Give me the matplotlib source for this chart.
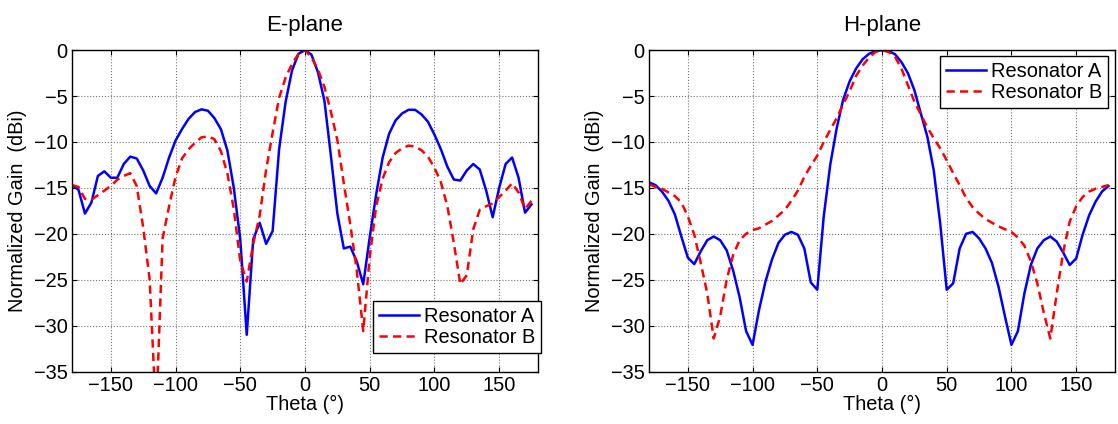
import numpy as np
import matplotlib
matplotlib.use('Agg')
import matplotlib.pyplot as plt

plt.rcParams['font.family'] = ['Liberation Sans', 'DejaVu Sans']

#Angles (deg), sampled every 5 deg
theta = list(range(-180, 180, 5))

#E-plane gain (dBi)
e_res_a = [-14.7, -15.2, -17.8, -16.6, -13.7, -13.2, -13.9, -13.9, -12.4, -11.6,
           -11.8, -13.1, -14.8, -15.6, -13.9, -11.7, -9.85, -8.6, -7.5, -6.75,
           -6.45, -6.6, -7.4, -8.6, -10.9, -15.0, -20.6, -31.0, -20.6, -18.8,
           -21.1, -19.7, -10.8, -5.65, -2.2, -0.4, 0.0, -0.5, -2.4, -5.5,
           -11.5, -17.8, -21.6, -21.4, -23.0, -25.5, -20.4, -15.7, -11.7, -9.1,
           -7.65, -6.9, -6.5, -6.5, -7.0, -7.8, -9.2, -10.8, -12.7, -14.1,
           -14.2, -13.1, -12.4, -13.0, -15.3, -18.2, -15.0, -12.4, -11.7, -13.9,
           -17.7, -16.8]
e_res_b = [-14.7, -14.9, -16.2, -16.3, -15.8, -15.3, -14.8, -14.1, -13.7, -13.4,
           -14.8, -19.3, -25.0, -40.0, -20.5, -17.0, -13.8, -11.8, -10.8, -10.1,
           -9.5, -9.4, -9.7, -11.0, -13.4, -17.3, -23.0, -25.2, -21.1, -18.0,
           -13.0, -9.0, -5.2, -3.0, -1.5, -0.4, 0.0, -0.8, -2.1, -4.0,
           -6.7, -9.8, -14.5, -19.0, -24.0, -30.6, -22.5, -17.0, -14.0, -12.2,
           -11.2, -10.7, -10.4, -10.5, -10.9, -11.6, -12.8, -14.4, -17.0, -21.0,
           -25.5, -24.5, -19.5, -17.4, -17.0, -16.7, -16.0, -15.3, -14.5, -15.5,
           -17.3, -16.4]

#H-plane gain (dBi)
h_res_a = [-14.4, -14.7, -15.4, -16.4, -17.9, -20.3, -22.6, -23.3, -21.9, -20.7,
           -20.3, -20.7, -21.8, -24.0, -26.9, -30.6, -32.1, -28.3, -25.2, -22.8,
           -21.0, -20.1, -19.8, -20.1, -21.6, -25.3, -26.1, -18.1, -12.5, -8.5,
           -5.4, -3.4, -2.0, -1.0, -0.4, -0.1, 0.0, -0.1, -0.44, -1.3,
           -2.5, -4.35, -6.9, -9.4, -13.1, -18.9, -26.1, -25.4, -21.6, -20.0,
           -19.8, -20.5, -21.6, -23.2, -25.75, -29.0, -32.1, -30.6, -26.5, -23.4,
           -21.6, -20.7, -20.3, -20.85, -22.05, -23.4, -22.7, -20.1, -18.0, -16.5,
           -15.4, -14.8]
h_res_b = [-14.6, -14.9, -15.1, -15.5, -15.9, -16.6, -18.1, -20.1, -23.2, -26.5,
           -31.4, -29.0, -25.0, -22.3, -20.7, -20.0, -19.6, -19.4, -19.0, -18.6,
           -18.0, -17.4, -16.4, -15.3, -13.8, -12.6, -11.5, -10.0, -8.7, -7.4,
           -5.9, -4.5, -2.8, -1.7, -0.8, -0.2, 0.0, -0.2, -0.7, -2.0,
           -3.8, -5.6, -7.0, -8.4, -9.6, -10.7, -12.0, -13.4, -14.7, -16.1,
           -17.1, -17.8, -18.4, -18.8, -19.2, -19.5, -19.8, -20.4, -21.3, -23.0,
           -25.4, -28.6, -31.4, -26.5, -22.0, -18.7, -17.0, -16.0, -15.4, -15.1,
           -14.9, -14.7]

labels = ['Resonator A', 'Resonator B']
titles = ['E-plane', 'H-plane']
xticks = [-150, -100, -50, 0, 50, 100, 150]
yticks = [0, -5, -10, -15, -20, -25, -30, -35]

FS = 14.4


#Plotting function for one plane
def plot_plane(ax, res_a, res_b, title, legend_loc, legend_anchor):
  ax.plot(theta, res_a, color=(0, 0, 1), lw=1.8, label=labels[0])
  ax.plot(theta, res_b, color=(1, 0, 0), lw=1.8, ls='--', dashes=(3.3, 2.1), label=labels[1])
  ax.set_xlim(-180, 180)
  ax.set_ylim(-35, 0)
  ax.set_xticks(xticks)
  ax.set_yticks(yticks)
  ax.grid(True, ls=':', color='0.45', lw=0.8)
  ax.tick_params(direction='in', top=True, right=True, length=3.5, labelsize=FS)
  ax.tick_params(axis='x', pad=3.5)
  ax.tick_params(axis='y', pad=3)
  for s in ax.spines.values():
    s.set_linewidth(1.0)
  ax.set_title(title, fontsize=16, pad=14)
  ax.set_xlabel('Theta (°)', fontsize=FS, labelpad=0)
  ax.set_ylabel('Normalized Gain  (dBi)', fontsize=FS, labelpad=5)
  leg = ax.legend(loc=legend_loc, bbox_to_anchor=legend_anchor, fontsize=FS,
                  fancybox=False, framealpha=1, edgecolor='black',
                  handlelength=2.0, borderaxespad=0, borderpad=0.3,
                  labelspacing=0.1, handletextpad=0.25)
  leg.get_frame().set_linewidth(1.0)


fig = plt.figure(figsize=(11.18, 4.24), dpi=100)
ax1 = fig.add_axes([0.0644, 0.1238, 0.4168, 0.758])
ax2 = fig.add_axes([0.5805, 0.1238, 0.4168, 0.758])

plot_plane(ax1, e_res_a, e_res_b, titles[0], 'lower right', (1.006, 0.057))
plot_plane(ax2, h_res_a, h_res_b, titles[1], 'upper right', (0.985, 0.981))

fig.savefig('out.png', dpi=100)
